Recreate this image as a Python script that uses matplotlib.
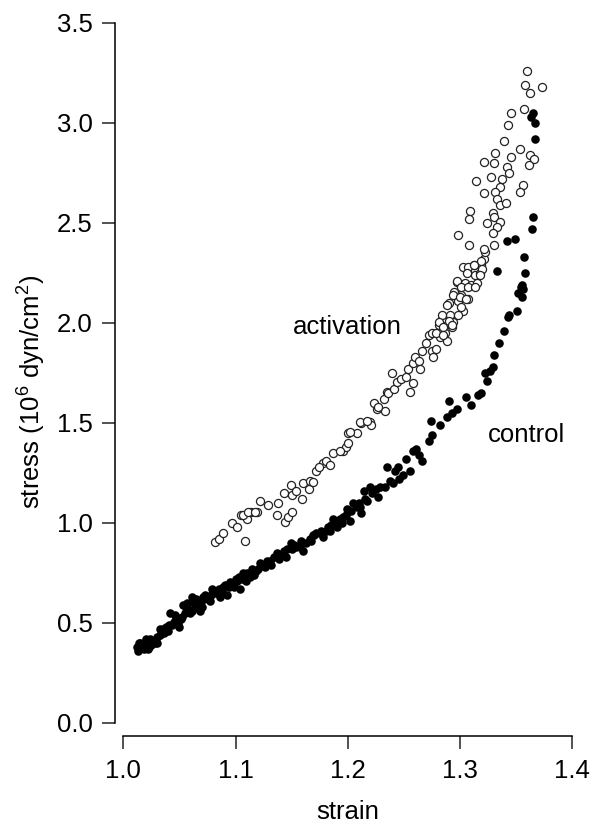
import matplotlib
matplotlib.use("Agg")
import matplotlib.pyplot as plt

plt.rcParams['font.family'] = ['Liberation Sans', 'DejaVu Sans']
plt.rcParams['mathtext.fontset'] = 'custom'
plt.rcParams['mathtext.rm'] = 'Liberation Sans'
plt.rcParams['mathtext.it'] = 'Liberation Sans:italic'

# control (filled dots)
control_strain = [
    1.365, 1.363, 1.367, 1.367, 1.365, 1.364, 1.342, 1.349, 1.357, 1.333,
    1.358, 1.354, 1.356, 1.352, 1.355, 1.344, 1.351, 1.343, 1.339, 1.355,
    1.335, 1.330, 1.329, 1.327, 1.322, 1.324, 1.319, 1.316, 1.305, 1.310,
    1.297, 1.293, 1.290, 1.288, 1.282, 1.274, 1.275, 1.272, 1.266, 1.261,
    1.258, 1.252, 1.255, 1.249, 1.245, 1.242, 1.235, 1.238, 1.233, 1.227,
    1.220, 1.214, 1.217, 1.211, 1.205, 1.199, 1.196, 1.202, 1.187, 1.190,
    1.181, 1.175, 1.169, 1.163, 1.157,
    1.012, 1.015, 1.018, 1.021, 1.024, 1.030, 1.033, 1.042, 1.045, 1.051,
    1.056, 1.062, 1.059, 1.068, 1.071, 1.077, 1.083, 1.089, 1.095, 1.101,
    1.107, 1.113, 1.122, 1.126, 1.131, 1.137, 1.143, 1.149, 1.154, 1.172,
    1.178, 1.184, 1.208, 1.229, 1.053, 1.061, 1.073,
    1.013, 1.016, 1.019, 1.014, 1.022, 1.025, 1.027, 1.020, 1.030, 1.033,
    1.036, 1.038, 1.040, 1.043, 1.047, 1.049, 1.052, 1.055, 1.058, 1.061,
    1.064, 1.066, 1.069, 1.072, 1.075, 1.078, 1.081, 1.085, 1.088, 1.091,
    1.094, 1.097, 1.100, 1.103, 1.106, 1.110, 1.115, 1.118, 1.124, 1.128,
    1.134, 1.140, 1.146, 1.152, 1.158, 1.166, 1.170, 1.176, 1.182, 1.188,
    1.193, 1.198, 1.203, 1.210, 1.215, 1.222, 1.225,
    1.017, 1.023, 1.028, 1.035, 1.041, 1.046, 1.050, 1.057, 1.065, 1.070,
    1.079, 1.086, 1.092, 1.099, 1.104, 1.109, 1.116, 1.120, 1.132, 1.139,
    1.145, 1.150, 1.160, 1.167, 1.185, 1.195, 1.212, 1.240, 1.246, 1.263,
]
control_stress = [
    3.05, 3.03, 3.00, 2.92, 2.53, 2.47, 2.41, 2.42, 2.33, 2.26,
    2.25, 2.18, 2.17, 2.15, 2.13, 2.04, 2.06, 2.03, 1.96, 2.19,
    1.90, 1.84, 1.78, 1.76, 1.75, 1.71, 1.65, 1.64, 1.63, 1.59,
    1.57, 1.55, 1.61, 1.53, 1.49, 1.51, 1.44, 1.41, 1.31, 1.37,
    1.36, 1.32, 1.26, 1.24, 1.28, 1.26, 1.28, 1.21, 1.18, 1.13,
    1.18, 1.16, 1.11, 1.08, 1.10, 1.07, 1.03, 1.01, 1.02, 0.98,
    0.96, 0.95, 0.94, 0.90, 0.88,
    0.38, 0.40, 0.37, 0.405, 0.42, 0.43, 0.47, 0.55, 0.505, 0.52,
    0.58, 0.605, 0.55, 0.56, 0.63, 0.61, 0.65, 0.68, 0.705, 0.71,
    0.75, 0.73, 0.80, 0.78, 0.81, 0.85, 0.86, 0.90, 0.88, 0.95,
    0.93, 0.96, 1.08, 1.18, 0.59, 0.63, 0.64,
    0.36, 0.38, 0.39, 0.40, 0.37, 0.39, 0.41, 0.42, 0.40, 0.44,
    0.45, 0.48, 0.46, 0.49, 0.52, 0.50, 0.53, 0.55, 0.57, 0.56,
    0.58, 0.60, 0.61, 0.62, 0.63, 0.64, 0.66, 0.67, 0.66, 0.69,
    0.68, 0.70, 0.72, 0.73, 0.72, 0.75, 0.77, 0.76, 0.79, 0.81,
    0.83, 0.84, 0.87, 0.89, 0.91, 0.92, 0.94, 0.96, 0.98, 1.00,
    1.02, 1.04, 1.06, 1.10, 1.12, 1.15, 1.17,
    0.39, 0.38, 0.40, 0.47, 0.49, 0.54, 0.48, 0.60, 0.62, 0.58,
    0.67, 0.63, 0.64, 0.68, 0.67, 0.71, 0.74, 0.77, 0.79, 0.82,
    0.83, 0.87, 0.86, 0.91, 0.99, 1.00, 1.05, 1.20, 1.22, 1.34,
]

# activation (open circles)
act_strain = [
    1.082, 1.085, 1.089, 1.097, 1.101, 1.105, 1.108, 1.110, 1.114, 1.119,
    1.122, 1.107, 1.111, 1.117, 1.129, 1.137, 1.138, 1.144, 1.147, 1.150,
    1.143, 1.149, 1.150, 1.154, 1.159, 1.160, 1.165, 1.166, 1.169, 1.172,
    1.178, 1.181, 1.184, 1.187, 1.196, 1.198, 1.200, 1.200, 1.208, 1.212,
    1.220, 1.221, 1.223, 1.226, 1.232, 1.233, 1.235, 1.174, 1.193, 1.202,
    1.211, 1.217, 1.227, 1.236, 1.239, 1.241, 1.244, 1.247, 1.255, 1.258,
    1.252, 1.254, 1.258, 1.260, 1.263, 1.264, 1.266, 1.270, 1.272, 1.275,
    1.276, 1.279, 1.281, 1.284, 1.282, 1.287, 1.288, 1.290, 1.291, 1.293,
    1.294, 1.295, 1.297, 1.298, 1.301, 1.303, 1.304, 1.306, 1.307, 1.310,
    1.312, 1.313, 1.315, 1.318, 1.319, 1.321, 1.322,
    1.360, 1.358, 1.362, 1.373, 1.357, 1.345, 1.343, 1.339, 1.331, 1.321,
    1.330, 1.345, 1.353, 1.362, 1.366, 1.361, 1.342, 1.344, 1.314, 1.328,
    1.337, 1.336, 1.356, 1.353, 1.321, 1.331, 1.333, 1.336, 1.341, 1.309,
    1.308, 1.329, 1.330, 1.324, 1.336, 1.333, 1.329, 1.298, 1.308, 1.330,
    1.321, 1.319, 1.303, 1.307, 1.312, 1.320, 1.306, 1.318, 1.297, 1.301,
    1.307, 1.313, 1.294, 1.300, 1.305, 1.288, 1.301, 1.284, 1.298, 1.290,
    1.281, 1.285, 1.293, 1.275, 1.279, 1.285,
]
act_stress = [
    0.905, 0.92, 0.95, 1.00, 0.98, 1.04, 0.91, 1.02, 1.055, 1.055,
    1.11, 1.04, 1.055, 1.055, 1.09, 1.04, 1.10, 1.005, 1.03, 1.055,
    1.15, 1.19, 1.14, 1.16, 1.12, 1.20, 1.17, 1.21, 1.205, 1.26,
    1.30, 1.31, 1.29, 1.35, 1.36, 1.38, 1.40, 1.45, 1.45, 1.50,
    1.505, 1.49, 1.60, 1.57, 1.62, 1.56, 1.655, 1.28, 1.36, 1.455,
    1.505, 1.51, 1.58, 1.65, 1.75, 1.67, 1.705, 1.72, 1.655, 1.70,
    1.73, 1.77, 1.80, 1.83, 1.81, 1.77, 1.86, 1.90, 1.94, 1.86,
    1.83, 1.87, 1.99, 2.02, 1.93, 1.95, 1.91, 2.10, 2.04, 1.98,
    2.005, 2.155, 2.205, 2.11, 2.14, 2.06, 2.20, 2.26, 2.12, 2.19,
    2.29, 2.24, 2.20, 2.25, 2.29, 2.32, 2.355,
    3.26, 3.19, 3.15, 3.18, 3.07, 3.05, 2.99, 2.91, 2.85, 2.805,
    2.80, 2.83, 2.87, 2.84, 2.82, 2.79, 2.78, 2.75, 2.71, 2.73,
    2.72, 2.68, 2.69, 2.655, 2.65, 2.655, 2.62, 2.59, 2.60, 2.56,
    2.52, 2.55, 2.53, 2.50, 2.505, 2.48, 2.45, 2.44, 2.39, 2.39,
    2.37, 2.31, 2.28, 2.28, 2.29, 2.27, 2.25, 2.24, 2.21, 2.18,
    2.18, 2.18, 2.14, 2.13, 2.12, 2.09, 2.08, 2.04, 2.04, 2.01,
    2.005, 1.98, 1.99, 1.95, 1.95, 1.94,
]

x_ticks = [1.0, 1.1, 1.2, 1.3, 1.4]
y_ticks = [0.0, 0.5, 1.0, 1.5, 2.0, 2.5, 3.0, 3.5]

fig = plt.figure(figsize=(5.9, 8.27), dpi=100)
ax = fig.add_axes([0.1949, 0.1261, 0.7751, 0.8464])

ax.scatter(act_strain, act_stress, s=34, facecolors='white', edgecolors='#222222',
           linewidths=0.9, zorder=2)
ax.scatter(control_strain, control_stress, s=38, color='black', linewidths=0, zorder=3)

ax.set_xlim(0.9926, 1.4)
ax.set_ylim(0, 3.5)
ax.set_xticks(x_ticks)
ax.set_yticks(y_ticks)
ax.set_xticklabels(['%.1f' % v for v in x_ticks])
ax.set_yticklabels(['%.1f' % v for v in y_ticks])

for side in ['top', 'right']:
    ax.spines[side].set_visible(False)
ax.spines['bottom'].set_bounds(1.0, 1.4)
ax.spines['bottom'].set_position(('outward', 9.6))
ax.spines['left'].set_linewidth(1.1)
ax.spines['bottom'].set_linewidth(1.1)
ax.tick_params(axis='both', length=9.4, width=1.1, labelsize=18.5, color='#222222')
ax.tick_params(axis='y', pad=6.5)
ax.tick_params(axis='x', pad=7)

ax.set_xlabel('strain', fontsize=18.5)
ax.xaxis.set_label_coords(0.5095, -0.1276)
ax.xaxis.label.set_va('center')
ax.set_ylabel('stress (10$^6$ dyn/cm$^2$)', fontsize=18.5)
ax.yaxis.set_label_coords(-0.1815, 0.4724)
ax.yaxis.label.set_va('center')

ax.text(1.200, 1.98, 'activation', fontsize=18.5, ha='center', va='center')
ax.text(1.359, 1.44, 'control', fontsize=18.5, ha='center', va='center')

fig.savefig('out.png', dpi=100)
